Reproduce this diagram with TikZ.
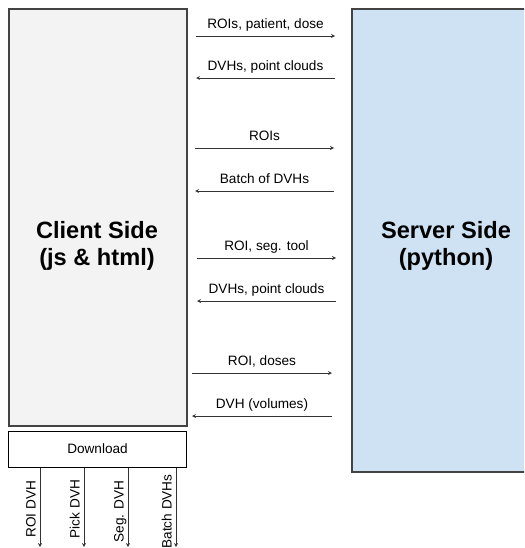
\documentclass[tikz,border=0pt]{standalone}
\usepackage{fontspec}
\setmainfont{Liberation Sans}
\usetikzlibrary{positioning}
\definecolor{clientgray}{HTML}{F3F3F3}
\definecolor{serverblue}{HTML}{CFE2F3}
\definecolor{edgegray}{HTML}{434343}

\begin{document}
\begin{tikzpicture}[x=1pt, y=-1pt, > = stealth]
        \tikzstyle{side}=[rectangle, draw=edgegray, line width=1.8pt, inner sep=0pt, anchor=north west]
        \tikzstyle{title}=[font=\fontsize{23.6}{27.5}\selectfont\bfseries, align=center]
        \tikzstyle{msg}=[->, draw=black!80, line width=0.8pt]
        \tikzstyle{lbl}=[font=\fontsize{13.6}{16}\selectfont, inner sep=1pt, text height=10pt, text depth=3pt]

                    \clip (0,0) rectangle (524,548);

                    % Caixas
                    \node[side, fill=clientgray, minimum width=178pt, minimum height=417pt] (client) at (8,8) {};
                    \node[side, fill=serverblue, minimum width=300pt, minimum height=463pt] (server) at (351,8) {};
                    \node[side, fill=white, draw=black, line width=1pt, minimum width=178pt, minimum height=36pt] (download) at (8,431) {};
                    \node[lbl] at (download.center) {Download};

                    \node[title] (clienttxt) at (97,246) {Client Side\\(js \& html)};
                    \node[title] (servertxt) at (446,246) {Server Side\\(python)};

                    % Mensagens
                    \coordinate (c1) at (196,36);  \coordinate (s1) at (335,36);
                    \coordinate (c2) at (196,78);  \coordinate (s2) at (335,78);
                    \coordinate (c3) at (195,148); \coordinate (s3) at (334,148);
                    \coordinate (c4) at (195,191); \coordinate (s4) at (334,191);
                    \coordinate (c5) at (197,258); \coordinate (s5) at (336,258);
                    \coordinate (c6) at (197,301); \coordinate (s6) at (336,301);
                    \coordinate (c7) at (192,373); \coordinate (s7) at (332,373);
                    \coordinate (c8) at (192,416); \coordinate (s8) at (332,416);

                    \draw[msg] (c1) -- node[lbl, above=3pt] {ROIs, patient, dose} (s1);
                    \draw[msg] (s2) -- node[lbl, above=3pt] {DVHs, point clouds} (c2);
                    \draw[msg] (c3) -- node[lbl, above=3pt] {ROIs} (s3);
                    \draw[msg] (s4) -- node[lbl, above=3pt] {Batch of DVHs} (c4);
                    \draw[msg] (c5) -- node[lbl, above=3pt] {ROI, seg. tool} (s5);
                    \draw[msg] (s6) -- node[lbl, above=3pt] {DVHs, point clouds} (c6);
                    \draw[msg] (c7) -- node[lbl, above=3pt] {ROI, doses} (s7);
                    \draw[msg] (s8) -- node[lbl, above=3pt] {DVH (volumes)} (c8);

                    % Downloads
                    \coordinate (d1) at (40,547);
                    \coordinate (d2) at (84,547);
                    \coordinate (d3) at (128,547);
                    \coordinate (d4) at (176,547);

                    \draw[msg] (download.south -| d1) -- node[lbl, rotate=90, anchor=south, pos=0.52] {ROI DVH} (d1);
                    \draw[msg] (download.south -| d2) -- node[lbl, rotate=90, anchor=south, pos=0.52] {Pick DVH} (d2);
                    \draw[msg] (download.south -| d3) -- node[lbl, rotate=90, anchor=south, pos=0.55] {Seg. DVH} (d3);
                    \draw[msg] (download.south -| d4) -- node[lbl, rotate=90, anchor=south, pos=0.55] {Batch DVHs} (d4);

\end{tikzpicture}
\end{document}
